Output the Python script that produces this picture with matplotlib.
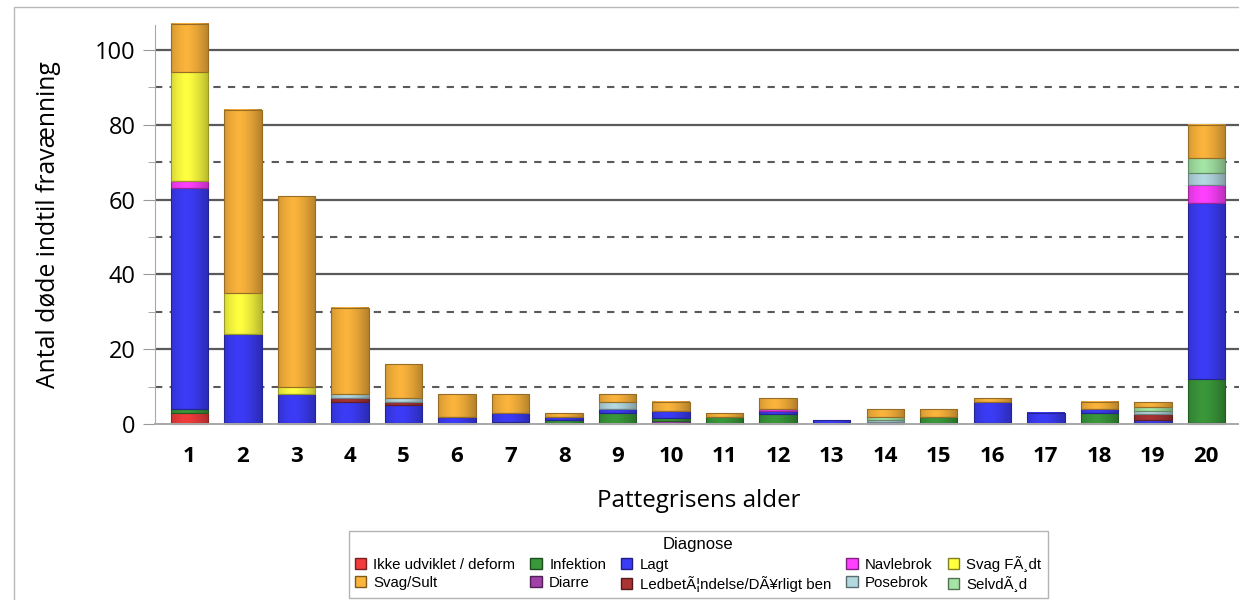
import numpy as np
import matplotlib
matplotlib.use("Agg")
import matplotlib.pyplot as plt
from matplotlib.patches import Rectangle, Patch
from matplotlib.colors import to_rgb

# alder 1..20
ages = list(range(1, 21))

# antal døde pr. diagnose (stablet nedefra og op)
ikke      = [3, 0, 0, 0, 0, 0, 0, 0, 0, 0, 0, 0, 0, 0, 0, 0, 0, 0, 0, 0]
diarre    = [0, 0, 0.4, 0, 0, 0, 0.6, 0, 0, 0.8, 0, 0, 0, 0, 0, 0, 0, 0, 0, 0.4]
infektion = [1, 0.4, 0, 0, 0.4, 0, 0, 1, 3, 0.7, 2, 2.7, 0, 0, 2, 0.4, 0, 3, 0.4, 11.6]
lagt      = [59, 23.6, 7.6, 6, 4.6, 2, 2.4, 1, 1, 2, 0, 0.7, 1, 0.6, 0, 5.6, 3, 1, 0.8, 47]
ledbet    = [0, 0, 0, 1, 1, 0, 0, 0, 0, 0, 0, 0, 0, 0, 0, 0, 0, 0, 1.5, 0]
navlebrok = [2, 0, 0, 0, 0, 0, 0, 0, 0, 0, 0, 0.7, 0, 0, 0, 0, 0, 0, 0, 5]
posebrok  = [0, 0, 0, 1, 1, 0, 0, 0, 2, 0, 0, 0, 0, 0.5, 0, 0, 0, 0, 0.9, 3]
selvdod   = [0, 0, 0, 0, 0, 0, 0, 0, 0, 0, 0, 0, 0, 0.9, 0, 0, 0, 0, 0.9, 4]
svagfodt  = [29, 11, 2, 0, 0, 0, 0, 0, 0, 0, 0, 0, 0, 0, 0, 0, 0, 0, 0, 0]
sult      = [13, 49, 51, 23, 9, 6, 5, 1, 2, 2.5, 1, 2.9, 0, 2, 2, 1, 0, 2, 1.3, 9]

labels = {
    "ikke": "Ikke udviklet / deform",
    "infektion": "Infektion",
    "lagt": "Lagt",
    "navlebrok": "Navlebrok",
    "svagfodt": "Svag FÃ¸dt",
    "sult": "Svag/Sult",
    "diarre": "Diarre",
    "ledbet": "LedbetÃ¦ndelse/DÃ¥rligt ben",
    "posebrok": "Posebrok",
    "selvdod": "SelvdÃ¸d",
}
colors = {
    "ikke": "#f03c3c",
    "infektion": "#3a983a",
    "lagt": "#3c3cf8",
    "navlebrok": "#ff40ff",
    "svagfodt": "#ffff40",
    "sult": "#fbb43c",
    "diarre": "#a040a8",
    "ledbet": "#a83434",
    "posebrok": "#b4d8e0",
    "selvdod": "#a4e4a4",
}
stack = [("ikke", ikke), ("diarre", diarre), ("infektion", infektion), ("lagt", lagt),
         ("ledbet", ledbet), ("navlebrok", navlebrok), ("posebrok", posebrok),
         ("selvdod", selvdod), ("svagfodt", svagfodt), ("sult", sult)]


def darker(c, f=0.6):
    r, g, b = to_rgb(c)
    return (r * f, g * f, b * f)


# lys midt, mørkere kanter (som SAS-gradient)
t = np.linspace(0, 1, 40)
shade = 1.0 - 0.28 * np.abs(t - 0.4) ** 1.5 / 0.6 ** 1.5

plt.rcParams['font.family'] = ['Open Sans', 'DejaVu Sans']

fig = plt.figure(figsize=(12.39, 6.0), dpi=100)
ax = fig.add_axes([155 / 1239, 176 / 600, 1 - 155 / 1239, 399 / 600])

x = np.array(ages)
bottom = np.zeros(len(ages))
for key, vals in stack:
    v = np.array(vals, dtype=float)
    m = v > 0
    bars = ax.bar(x[m], v[m], bottom=bottom[m], width=0.70, color=colors[key],
                  edgecolor=darker(colors[key]), linewidth=0.8, zorder=3, clip_on=False)
    base = np.array(to_rgb(colors[key]))
    grad = np.clip(shade[:, None] * base[None, :], 0, 1)[None, :, :]
    for p in bars:
        x0, y0 = p.get_x(), p.get_y()
        ax.imshow(grad, extent=(x0, x0 + p.get_width(), y0, y0 + p.get_height()),
                  aspect="auto", interpolation="bilinear", zorder=3.5, clip_on=False)
        p.set_facecolor("none")
        p.set_zorder(4)
    bottom += v

ax.set_xlim(0.355, 20.61)
ax.set_ylim(0, 106.7)

for y in [20, 40, 60, 80, 100]:
    ax.axhline(y, color="#5a5a5a", lw=1.6, zorder=1)
for y in [10, 30, 50, 70, 90]:
    ax.axhline(y, color="#5a5a5a", lw=1.5, ls=(0, (3.5, 3.5)), zorder=1)

ax.set_yticks([0, 20, 40, 60, 80, 100])
ax.set_yticks([10, 30, 50, 70, 90], minor=True)
ax.tick_params(axis="y", which="major", length=9, color="#9a9a9a", labelsize=17, pad=5)
ax.tick_params(axis="y", which="minor", length=5, color="#9a9a9a")
ax.set_xticks(ages)
ax.set_xticklabels([str(a) for a in ages], fontweight="bold")
ax.tick_params(axis="x", length=0, labelsize=16, pad=16)

for s in ["top", "right"]:
    ax.spines[s].set_visible(False)
ax.spines["left"].set_color("#a8a8a8")
ax.spines["bottom"].set_color("#a8a8a8")
ax.spines["bottom"].set_linewidth(1.4)
ax.spines["bottom"].set_zorder(5)

ax.set_ylabel("Antal døde indtil fravænning", fontsize=17.8)
ax.yaxis.set_label_coords(-0.087, 0.5)
ax.set_xlabel("Pattegrisens alder", fontsize=17.4)
ax.xaxis.set_label_coords(0.502, -0.163)

order = ["ikke", "sult", "infektion", "diarre", "lagt", "ledbet",
         "navlebrok", "posebrok", "svagfodt", "selvdod"]
handles = [Patch(facecolor=colors[k], edgecolor=darker(colors[k], 0.5), label=labels[k])
           for k in order]
leg = ax.legend(handles=handles, ncol=5, loc="upper center", bbox_to_anchor=(0.501, -0.25),
                title="Diagnose", prop={"family": "Liberation Sans", "size": 10.8},
                title_fontproperties={"family": "Liberation Sans", "size": 12},
                frameon=True, fancybox=False, edgecolor="#a0a0a0",
                handlelength=0.75, handleheight=0.75, handletextpad=0.5,
                columnspacing=1.0, labelspacing=0.25, borderpad=0.4)
leg.get_frame().set_linewidth(1.0)

fig.patches.append(Rectangle((14 / 1239, -0.1), 2, (593 / 600) + 0.1, transform=fig.transFigure,
                             fill=False, edgecolor="#b8b8b8", lw=1.0))

fig.savefig("out.png", dpi=100)
